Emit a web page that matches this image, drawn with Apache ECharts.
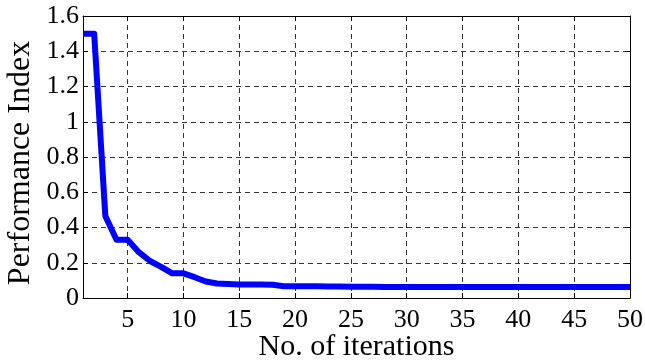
<!DOCTYPE html>
<html>
<head>
<meta charset="utf-8">
<script src="https://cdn.jsdelivr.net/npm/echarts@6/dist/echarts.min.js"></script>
<style>
  html, body { margin: 0; padding: 0; background: #fff; }
  #chart { width: 645px; height: 360px; }
</style>
</head>
<body>
<div id="chart"></div>
<script>
// Iteration numbers and the performance index reached at each one
const iterations = [
  1, 2, 3, 4, 5, 6, 7, 8, 9, 10,
  11, 12, 13, 14, 15, 16, 17, 18, 19, 20,
  21, 22, 23, 24, 25, 26, 27, 28, 29, 30,
  31, 32, 33, 34, 35, 36, 37, 38, 39, 40,
  41, 42, 43, 44, 45, 46, 47, 48, 49, 50
];
const performanceIndex = [
  1.50, 1.50, 0.465, 0.330, 0.330, 0.260, 0.210, 0.177, 0.140, 0.140,
  0.118, 0.094, 0.082, 0.080, 0.077, 0.076, 0.076, 0.075, 0.067, 0.066,
  0.066, 0.066, 0.065, 0.065, 0.064, 0.064, 0.064, 0.063, 0.063, 0.063,
  0.063, 0.063, 0.063, 0.063, 0.063, 0.063, 0.063, 0.063, 0.063, 0.063,
  0.063, 0.063, 0.063, 0.063, 0.063, 0.063, 0.063, 0.063, 0.063, 0.063
];
const xTickValues = [5, 10, 15, 20, 25, 30, 35, 40, 45, 50];
const yTickStep = 0.2;
const yMax = 1.6;

const FONT = '"Liberation Serif", "Times New Roman", serif';
const gridDash = { show: true, lineStyle: { color: '#333', width: 1, type: [5, 4] } };

const chart = echarts.init(document.getElementById('chart'), null, { renderer: 'canvas' });

chart.setOption({
  animation: false,
  backgroundColor: '#fff',
  grid: { left: 83, right: 15, top: 16, bottom: 62, containLabel: false, outerBoundsMode: 'none' },
  xAxis: [
    {
      type: 'value',
      min: iterations[0],
      max: iterations[iterations.length - 1],
      position: 'bottom',
      name: 'No. of iterations',
      nameLocation: 'middle',
      nameGap: 34,
      nameMoveOverlap: false,
      nameTextStyle: { fontFamily: FONT, fontSize: 30, color: '#000', verticalAlign: 'top' },
      axisLine: { show: true, onZero: false, lineStyle: { color: '#000', width: 1 } },
      axisTick: { show: true, inside: true, length: 5, customValues: xTickValues, lineStyle: { color: '#000' } },
      axisLabel: { customValues: xTickValues, fontFamily: FONT, fontSize: 26, color: '#000', margin: 9 },
      splitLine: gridDash
    },
    {
      type: 'value',
      min: iterations[0],
      max: iterations[iterations.length - 1],
      position: 'top',
      axisLine: { show: true, onZero: false, lineStyle: { color: '#000', width: 1 } },
      axisTick: { show: true, inside: true, length: 5, customValues: xTickValues, lineStyle: { color: '#000' } },
      axisLabel: { show: false, customValues: xTickValues },
      splitLine: { show: false }
    }
  ],
  yAxis: [
    {
      type: 'value',
      min: 0,
      max: yMax,
      interval: yTickStep,
      position: 'left',
      name: 'Performance Index',
      nameLocation: 'middle',
      nameGap: 46,
      nameMoveOverlap: false,
      nameTextStyle: { fontFamily: FONT, fontSize: 32, color: '#000', padding: [0, 12, 0, 0] },
      axisLine: { show: true, onZero: false, lineStyle: { color: '#000', width: 1 } },
      axisTick: { show: true, inside: true, length: 5, lineStyle: { color: '#000' } },
      axisLabel: { fontFamily: FONT, fontSize: 26, color: '#000', margin: 4 },
      splitLine: gridDash
    },
    {
      type: 'value',
      min: 0,
      max: yMax,
      interval: yTickStep,
      position: 'right',
      axisLine: { show: true, onZero: false, lineStyle: { color: '#000', width: 1 } },
      axisTick: { show: true, inside: true, length: 5, lineStyle: { color: '#000' } },
      axisLabel: { show: false },
      splitLine: { show: false }
    }
  ],
  series: [
    {
      type: 'line',
      xAxisIndex: 0,
      yAxisIndex: 0,
      data: iterations.map((it, i) => [it, performanceIndex[i]]),
      showSymbol: false,
      symbol: 'none',
      lineStyle: { color: '#0000ff', width: 6, join: 'round' },
      z: 5
    }
  ]
});
</script>
</body>
</html>
